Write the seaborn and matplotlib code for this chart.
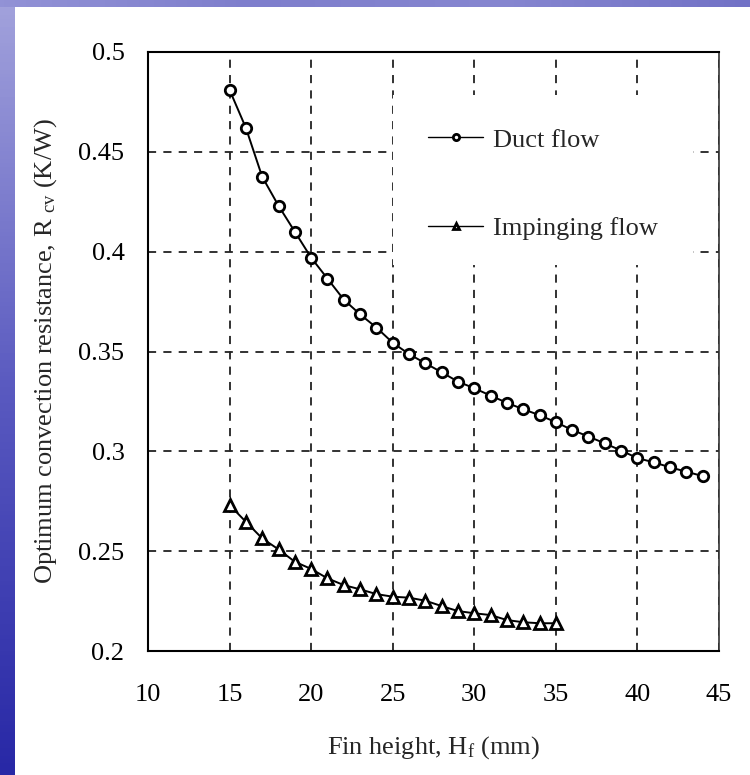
import numpy as np
import pandas as pd
import matplotlib
matplotlib.use("Agg")
import matplotlib.pyplot as plt
from matplotlib.patches import Rectangle
from matplotlib.ticker import MultipleLocator
from matplotlib.colors import LinearSegmentedColormap
import seaborn as sns

# values
fin_height_duct = list(range(15, 45))
r_duct = [0.481, 0.462, 0.4375, 0.423, 0.410, 0.397, 0.3865, 0.376, 0.3686, 0.362,
          0.3544, 0.3487, 0.3441, 0.3396, 0.3349, 0.3316, 0.3279, 0.3243, 0.3211, 0.3181,
          0.3146, 0.3107, 0.3074, 0.3040, 0.3004, 0.2966, 0.2945, 0.2920, 0.2898, 0.2876]
fin_height_imp = list(range(15, 36))
r_imp = [0.2731, 0.2647, 0.2564, 0.2509, 0.2447, 0.2411, 0.2364, 0.2330, 0.2309, 0.2285,
         0.2272, 0.2267, 0.2252, 0.2225, 0.2200, 0.2189, 0.2180, 0.2155, 0.2144, 0.2139,
         0.2139]
x_ticks = [10, 15, 20, 25, 30, 35, 40, 45]
y_ticks = [0.2, 0.25, 0.3, 0.35, 0.4, 0.45, 0.5]
y_tick_labels = ["0.2", "0.25", "0.3", "0.35", "0.4", "0.45", "0.5"]

sns.set_style("white")
plt.rcParams["font.family"] = ["Liberation Serif", "DejaVu Serif"]
plt.rcParams["mathtext.fontset"] = "custom"
plt.rcParams["mathtext.rm"] = "Liberation Serif"
plt.rcParams["mathtext.it"] = "Liberation Serif:italic"

fs = 19
fig = plt.figure(figsize=(7.5, 7.75), dpi=100)
fig.patch.set_facecolor("white")

# slide frame: gradient strips on the left and top
left_cmap = LinearSegmentedColormap.from_list("lft", ["#a2a2dc", "#5a5ac0", "#2828a6"])
bl = fig.add_axes([0, 0, 14 / 750, 1], zorder=-5)
bl.imshow(np.linspace(0, 1, 200).reshape(-1, 1), cmap=left_cmap, aspect="auto")
bl.axis("off")
top_cmap = LinearSegmentedColormap.from_list("top", ["#9292d6", "#7e7ecc", "#8686d0", "#7272c6"])
bt = fig.add_axes([0, 1 - 7 / 775, 1, 7 / 775], zorder=-5)
bt.imshow(np.linspace(0, 1, 200).reshape(1, -1), cmap=top_cmap, aspect="auto")
bt.axis("off")

ax = fig.add_axes([148 / 750, 124 / 775, 571 / 750, 599 / 775])

sns.lineplot(x=fin_height_duct, y=r_duct, ax=ax, label="Duct flow", color="black",
             lw=1.4, marker="o", markersize=7.5, markerfacecolor="white",
             markeredgecolor="black", markeredgewidth=2.0, zorder=3)
sns.lineplot(x=fin_height_imp, y=r_imp, ax=ax, label="Impinging flow", color="black",
             lw=1.4, marker="^", markersize=8, markerfacecolor="white",
             markeredgecolor="black", markeredgewidth=2.0, zorder=3)

ax.set_xlim(10, 45)
ax.set_ylim(0.2, 0.5)
ax.set_xticks(x_ticks)
ax.set_yticks(y_ticks)
ax.set_yticklabels(y_tick_labels)
ax.xaxis.set_minor_locator(MultipleLocator(1))
ax.yaxis.set_minor_locator(MultipleLocator(0.01))
ax.set_axisbelow(True)
ax.grid(True, which="major", color="#222222", lw=1.3, linestyle=(0, (4.5, 4)))
ax.tick_params(axis="both", which="both", direction="in", colors="black", labelsize=fs)
ax.tick_params(axis="both", which="major", length=7, width=1.3)
ax.tick_params(axis="both", which="minor", length=4, width=1.1)
ax.tick_params(axis="x", which="major", pad=24)
ax.tick_params(axis="y", which="major", pad=17)
for sp in ax.spines.values():
    sp.set_color("black")
    sp.set_linewidth(1.5)
ax.spines["right"].set_linewidth(1.2)
ax.spines["right"].set_color("#333333")

ax.set_xlabel(r"Fin height, H$_{\mathrm{f}}$ (mm)", fontsize=fs, labelpad=20)
ax.set_ylabel(r"Optimum convection resistance, R $_{\mathrm{cv}}$ (K/W)", fontsize=fs,
              labelpad=14)

# white block behind the legend hides the grid there
ax.add_patch(Rectangle((245 / 571, 386 / 599), 300 / 571, 170 / 599,
                       transform=ax.transAxes, facecolor="white", edgecolor="none",
                       zorder=1))
leg = ax.legend(loc="center left", bbox_to_anchor=(280 / 571, 467 / 599), frameon=False,
                fontsize=fs, handlelength=2.1, handletextpad=0.35, labelspacing=2.45,
                borderpad=0, borderaxespad=0, markerscale=0.6)
for h in leg.legend_handles:
    h.set_linewidth(1.0)

fig.savefig("out.png", dpi=100)
